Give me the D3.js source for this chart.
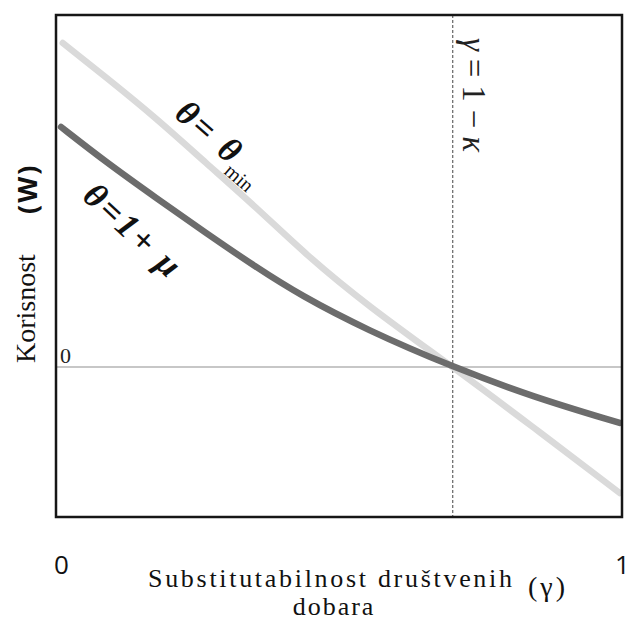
<!DOCTYPE html>
<html lang="sr">
<head>
    <meta charset="utf-8">
    <title>Korisnost</title>
    <style>
        body { margin: 0; background: #fff; }
    </style>
</head>
<body>
    <svg id="chart" width="633" height="621"></svg>
    <script src="https://cdn.jsdelivr.net/npm/d3@7"></script>
    <script>
        // gamma (x) and utility W (y)
        const gammaLight = [0.012, 0.088, 0.177, 0.265, 0.353, 0.442, 0.549, 0.701, 0.843, 0.996];
        const wLight     = [2.16, 1.933, 1.66, 1.36, 1.067, 0.747, 0.413, 0, -0.4, -0.84];
        const gammaDark  = [0.009, 0.088, 0.177, 0.265, 0.353, 0.431, 0.549, 0.701, 0.843, 0.996];
        const wDark      = [1.6, 1.367, 1.127, 0.893, 0.667, 0.48, 0.247, 0, -0.2, -0.373];
        const gammaCut = 0.701;   // gamma = 1 - kappa
        const xTicks = [0, 1];

        const SERIF = "Liberation Serif, DejaVu Serif, serif";
        const SANS = "Open Sans, Liberation Sans, sans-serif";

        const svg = d3.select("#chart");
        const m = { left: 56, right: 622, top: 15, bottom: 517 };

        const x = d3.scaleLinear().domain([0, 1]).range([m.left, m.right]);
        const y = d3.scaleLinear().domain([-1, 2.347]).range([m.bottom, m.top]);

        const line = d3.line()
            .x(d => x(d[0]))
            .y(d => y(d[1]))
            .curve(d3.curveBasis);

        // zero line
        svg.append("line")
            .attr("x1", m.left).attr("x2", m.right)
            .attr("y1", y(0)).attr("y2", y(0))
            .attr("stroke", "#b4b4b4")
            .attr("stroke-width", 1.5);

        // dashed gamma = 1 - kappa
        svg.append("line")
            .attr("x1", x(gammaCut)).attr("x2", x(gammaCut))
            .attr("y1", m.top).attr("y2", m.bottom)
            .attr("stroke", "#444")
            .attr("stroke-width", 1)
            .attr("stroke-dasharray", "3,2");

        svg.append("path")
            .datum(d3.zip(gammaLight, wLight))
            .attr("d", line)
            .attr("fill", "none")
            .attr("stroke", "#dadada")
            .attr("stroke-width", 6.5)
            .attr("stroke-linecap", "round");

        svg.append("path")
            .datum(d3.zip(gammaDark, wDark))
            .attr("d", line)
            .attr("fill", "none")
            .attr("stroke", "#6c6c6c")
            .attr("stroke-width", 6.5)
            .attr("stroke-linecap", "round");

        // frame
        svg.append("rect")
            .attr("x", m.left).attr("y", m.top)
            .attr("width", m.right - m.left).attr("height", m.bottom - m.top)
            .attr("fill", "none")
            .attr("stroke", "#161616")
            .attr("stroke-width", 2.5);

        // x ticks 0 and 1
        const xAxis = svg.append("g")
            .attr("transform", `translate(0,${m.bottom})`)
            .call(d3.axisBottom(x).tickValues(xTicks).tickSize(0).tickPadding(39).tickFormat(d3.format("d")));
        xAxis.select(".domain").remove();
        xAxis.selectAll("text")
            .attr("font-family", SANS)
            .attr("font-size", 26)
            .attr("fill", "#111")
            .attr("dx", (d, i) => i === 0 ? 5 : 0);

        // "0" at the zero line
        svg.append("text")
            .attr("font-family", SERIF)
            .attr("x", x(0) + 4).attr("y", y(0) - 4)
            .attr("font-size", 22)
            .attr("fill", "#222")
            .text("0");

        // x axis title
        svg.append("text")
            .attr("font-family", SERIF)
            .attr("x", 148).attr("y", 587)
            .attr("font-size", 26)
            .attr("textLength", 364).attr("lengthAdjust", "spacing")
            .attr("fill", "#111")
            .text("Substitutabilnost društvenih");
        svg.append("text")
            .attr("font-family", SERIF)
            .attr("x", 334).attr("y", 615)
            .attr("text-anchor", "middle")
            .attr("font-size", 26)
            .attr("letter-spacing", 2)
            .attr("fill", "#111")
            .text("dobara");
        svg.append("text")
            .attr("font-family", SERIF)
            .attr("x", 548).attr("y", 596)
            .attr("text-anchor", "middle")
            .attr("font-size", 28)
            .attr("letter-spacing", 3)
            .attr("fill", "#111")
            .text("(γ)");

        // y axis title
        svg.append("text")
            .attr("transform", "translate(35,363) rotate(-90)")
            .attr("font-family", SERIF)
            .attr("font-size", 28)
            .attr("fill", "#111")
            .text("Korisnost");
        svg.append("text")
            .attr("transform", "translate(37,214) rotate(-90)")
            .attr("font-family", SANS)
            .attr("font-weight", "bold")
            .attr("font-size", 27)
            .attr("letter-spacing", 2)
            .attr("fill", "#111")
            .text("(W)");

        // gamma = 1 - kappa label
        svg.append("text")
            .attr("transform", "translate(463,38) rotate(90)")
            .attr("font-family", SERIF)
            .attr("font-size", 33)
            .attr("fill", "#222")
            .attr("textLength", 114).attr("lengthAdjust", "spacing")
            .html('<tspan font-style="italic">γ</tspan>=1−<tspan font-style="italic">κ</tspan>');

        // curve labels
        const l1 = svg.append("text")
            .attr("transform", "translate(173,116) rotate(41)")
            .attr("font-family", SERIF)
            .attr("font-size", 35)
            .attr("font-weight", "bold")
            .attr("font-style", "italic")
            .attr("letter-spacing", 3)
            .attr("fill", "#111");
        l1.append("tspan").text("θ= θ");
        l1.append("tspan")
            .attr("font-size", 20)
            .attr("font-weight", "normal")
            .attr("font-style", "normal")
            .attr("letter-spacing", 0)
            .attr("dx", -2)
            .attr("dy", 10)
            .text("min");

        svg.append("text")
            .attr("transform", "translate(81,198) rotate(43)")
            .attr("font-family", SERIF)
            .attr("font-size", 35)
            .attr("font-weight", "bold")
            .attr("font-style", "italic")
            .attr("letter-spacing", 3)
            .attr("fill", "#111")
            .text("θ=1+ μ");
    </script>
</body>
</html>
